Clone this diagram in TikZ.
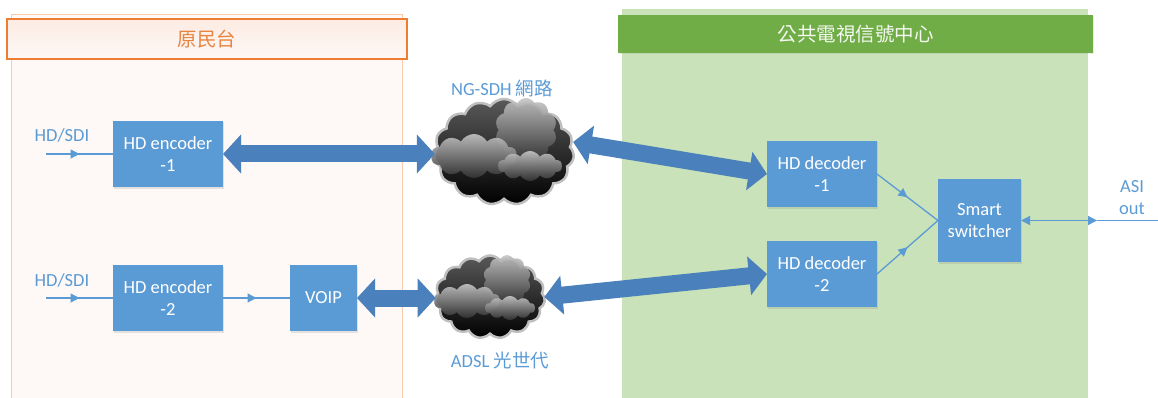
\documentclass[tikz,border=0pt]{standalone}
\usepackage{fontspec}
\setmainfont{Carlito}
\newfontfamily\cjk{Noto Sans CJK TC}
\usepackage{xcolor}
\usepackage{tikz}
\usetikzlibrary{calc,positioning,arrows.meta,shapes.symbols,shadows,decorations.markings}

\definecolor{boxblue}{HTML}{5B9BD5}
\definecolor{fatblue}{HTML}{4A80BB}
\definecolor{orgline}{HTML}{ED7D31}
\definecolor{orgtext}{HTML}{E8843F}
\definecolor{orgpale}{HTML}{F8CBAD}
\definecolor{orgfill}{HTML}{FEF8F6}
\definecolor{orghead}{HTML}{FCEBE2}
\definecolor{grnhead}{HTML}{70AD47}
\definecolor{grnfill}{HTML}{C9E2B9}

\begin{document}
\begin{tikzpicture}[x=1pt,y=-1pt,node distance=20pt,every node/.style={outer sep=0pt},
  font=\fontsize{18.5}{22}\selectfont]
\tikzset{box/.style={fill=boxblue,text=white,align=center,minimum width=110pt,minimum height=66pt,
    drop shadow={shadow xshift=1pt,shadow yshift=-1.5pt,opacity=.2}}}
\tikzset{thinline/.style={draw=boxblue,line width=1.3pt}}
\tikzset{midarrow/.style={postaction={decorate},decoration={markings,
    mark=at position 0.5 with {\arrow[boxblue]{Triangle[length=9pt,width=9pt]}}}}}
\tikzset{fatarrow/.style={draw=fatblue,line width=17pt,
    {Triangle[length=18pt,width=38pt]}-{Triangle[length=18pt,width=38pt]}}}
\tikzset{cloudy/.style={cloud,cloud puffs=15,cloud puff arc=110,cloud ignores aspect,
    draw=black!25,line width=2.5pt,top color=black!65,bottom color=black}}
\tikzset{puff/.style={cloud,cloud puffs=10,cloud puff arc=120,cloud ignores aspect,
    top color=gray!45,bottom color=black!80,opacity=.9}}
\tikzset{bluetext/.style={text=boxblue,align=center}}

\useasboundingbox (0,0) rectangle (1158,398);

  % two sites
  \draw[draw=orgpale,fill=orgfill] (11,14) rectangle (402,398);
  \node(LHead) [draw=orgline,line width=1.2pt,top color=orghead,bottom color=orgfill,
      minimum width=400pt,minimum height=40pt,text=orgtext,font=\cjk\fontsize{19.5}{22}\selectfont]
      at (207,39) {原民台};
  \fill[grnfill] (622,9) rectangle (1088,398);
  \node(RHead) [fill=grnhead,text=white!92!grnhead,minimum width=475pt,minimum height=38pt,
      font=\cjk\fontsize{19.5}{22}\selectfont,drop shadow={shadow xshift=1pt,shadow yshift=-1.5pt,opacity=.15}]
      at (855.5,34) {公共電視信號中心};

  % boxes
  \node(Enc1) [box] at (168,154) {HD encoder\\-1};
  \node(Enc2) [box,below=78pt of Enc1] {HD encoder\\-2};
  \node(Voip) [box,right=67pt of Enc2,minimum width=67pt] {VOIP};
  \node(Dec1) [box] at (822,174) {HD decoder\\-1};
  \node(Dec2) [box,below=34pt of Dec1] {HD decoder\\-2};
  \node(Sw) [box,minimum width=83pt,minimum height=83pt] at (979.5,220.5) {Smart\\switcher};

  % networks
  \node(Net1) [cloudy,minimum width=140pt,minimum height=106pt] at (504,152) {};
  \node(Net1A) [puff,minimum width=62pt,minimum height=64pt] at ($(Net1)+(22,-22)$) {};
  \node(Net1B) [puff,minimum width=86pt,minimum height=44pt] at ($(Net1)+(-30,4)$) {};
  \node(Net1C) [puff,minimum width=64pt,minimum height=30pt] at ($(Net1)+(26,14)$) {};
  \node(Net2) [cloudy,minimum width=110pt,minimum height=83pt] at (490,297) {};
  \node(Net2A) [puff,minimum width=48pt,minimum height=50pt] at ($(Net2)+(17,-17)$) {};
  \node(Net2B) [puff,minimum width=66pt,minimum height=34pt] at ($(Net2)+(-23,4)$) {};
  \node(Net2C) [puff,minimum width=50pt,minimum height=24pt] at ($(Net2)+(20,11)$) {};

  % labels
  \node(In1) [bluetext] at (62,135) {HD/SDI};
  \node(In2) [bluetext] at (62,280) {HD/SDI};
  \node(Net1T) [bluetext] at (502,88) {NG-SDH {\cjk 網路}};
  \node(Net2T) [bluetext] at (500,360) {ADSL {\cjk 光世代}};
  \node(AsiT) [bluetext] at (1132,198) {ASI\\out};

  \coordinate(Src1) at (46,154);
  \coordinate(Src2) at (46,298);
  \coordinate(AsiTip) at (1097,220.5);
  \coordinate(AsiEnd) at (1158,220.5);

  % thin connectors
  \draw[thinline,midarrow] (Src1) -- (Enc1.west);
  \draw[thinline,midarrow] (Src2) -- (Enc2.west);
  \draw[thinline,midarrow] (Enc2.east) -- (Voip.west);
  \draw[thinline,midarrow] (Dec1.east) -- (Sw.west);
  \draw[thinline,midarrow] (Dec2.east) -- (Sw.west);
  \draw[thinline,{Triangle[length=9pt,width=9pt]}-{Triangle[length=9pt,width=9pt]}] (Sw.east) -- (AsiTip);
  \draw[thinline] (AsiTip) -- (AsiEnd);

  % fat links
  \draw[fatarrow] (Enc1.east) -- (Enc1.east -| Net1.west);
  \draw[fatarrow] ($(Net1.east)+(0,-10)$) -- (Dec1.west);
  \draw[fatarrow] (Voip.east) -- (Voip.east -| Net2.west);
  \draw[fatarrow] (Net2.east) -- (Dec2.west);
\end{tikzpicture}
\end{document}
